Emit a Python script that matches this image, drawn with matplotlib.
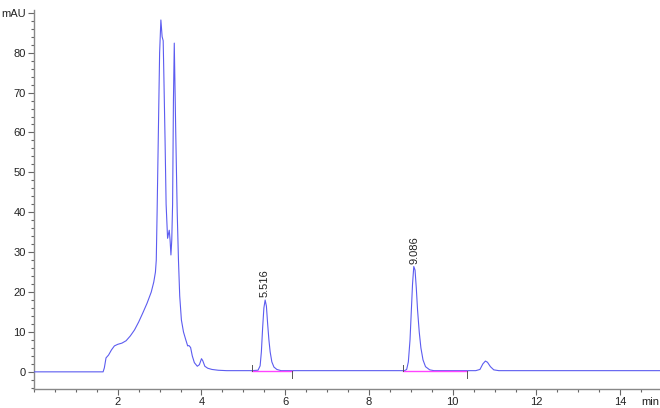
import matplotlib
matplotlib.use("Agg")
import matplotlib.pyplot as plt
from matplotlib.ticker import MultipleLocator
import matplotlib.transforms as mtransforms

plt.rcParams['font.family'] = ['Liberation Sans', 'DejaVu Sans']

time_min = [0.00, 1.65, 1.68, 1.72, 1.78, 1.85, 1.92, 2.00, 2.10, 2.20, 2.30, 2.40,
            2.50, 2.60, 2.70, 2.80, 2.86, 2.90, 2.92, 2.94, 2.97, 3.00, 3.03, 3.06,
            3.085, 3.10, 3.13, 3.155, 3.19, 3.21, 3.23, 3.25, 3.27, 3.29, 3.31, 3.33,
            3.35, 3.385, 3.42, 3.45, 3.48, 3.52, 3.57, 3.62, 3.67, 3.70, 3.74, 3.78,
            3.83, 3.90, 3.95, 4.00, 4.03, 4.08, 4.15, 4.25, 4.40, 4.60,
            5.20, 5.35, 5.40, 5.43, 5.46, 5.49, 5.52, 5.55, 5.58, 5.61, 5.64, 5.68,
            5.73, 5.80, 5.90,
            8.85, 8.90, 8.94, 8.98, 9.01, 9.04, 9.07, 9.10, 9.13, 9.16, 9.20, 9.24,
            9.29, 9.35, 9.45, 9.55,
            10.55, 10.65, 10.72, 10.78, 10.83, 10.90, 10.98, 11.10, 15.00]
signal_mau = [0.0, 0.0, 1.0, 3.5, 4.2, 5.5, 6.5, 6.9, 7.2, 7.8, 9.0, 10.5,
              12.5, 14.8, 17.2, 20.0, 22.5, 25.0, 28.0, 40.0, 60.0, 80.0, 88.2, 84.0,
              83.0, 75.0, 58.0, 42.0, 33.5, 34.5, 35.5, 33.0, 29.3, 33.0, 42.0, 68.0,
              82.4, 60.0, 40.0, 28.0, 19.0, 13.0, 10.0, 8.2, 6.5, 6.6, 6.1, 4.0,
              2.3, 1.4, 1.8, 3.3, 2.8, 1.4, 0.9, 0.6, 0.4, 0.3,
              0.3, 0.4, 1.5, 5.0, 11.0, 16.0, 18.0, 16.5, 12.0, 8.0, 5.0, 2.5,
              1.2, 0.6, 0.3,
              0.3, 0.6, 2.5, 8.0, 15.0, 22.0, 26.4, 25.5, 21.0, 15.5, 10.0, 6.0,
              3.0, 1.3, 0.5, 0.3,
              0.3, 0.6, 2.0, 2.7, 2.4, 1.3, 0.5, 0.3, 0.3]

# Labelled peaks
peak_rt = [5.516, 9.086]
peak_height = [18.0, 26.4]
peak_labels = ["5.516", "9.086"]

# Integration baselines (start, end)
integ_start = [5.20, 8.81]
integ_end = [6.16, 10.35]

fig = plt.figure(figsize=(6.6, 4.08), dpi=100)
ax = fig.add_axes([34 / 660, 19 / 408, 1 - 34 / 660, 379 / 408])

line_col = "#5c5cf0"
ax.plot(time_min, signal_mau, color=line_col, lw=0.8, zorder=3)

for s, e in zip(integ_start, integ_end):
    ax.plot([s, e], [0.3, 0.3], color="#ff44ff", lw=1.0, zorder=4)
    ax.plot([s, s], [0.3, 1.7], color="#555555", lw=0.7, zorder=5)
    ax.plot([e, e], [0.3, -1.5], color="#555555", lw=0.7, zorder=5)

for rt, h, lab in zip(peak_rt, peak_height, peak_labels):
    ax.annotate(lab, xy=(rt, h), xytext=(0, 2), textcoords="offset points",
                rotation=90, ha="center", va="bottom", fontsize=8, color="#222222")

ax.set_xlim(0, 14.95)
ax.set_ylim(-4.3, 90.7)

ax.xaxis.set_minor_locator(MultipleLocator(0.5))
xt = [2, 4, 6, 8, 10, 12, 14]
ax.set_xticks(xt)
ax.set_xticklabels([str(v) for v in xt])

yt = [0, 10, 20, 30, 40, 50, 60, 70, 80, 90]
ax.set_yticks(yt)
ax.set_yticklabels([str(v) for v in yt[:-1]] + ["mAU"])
ax.yaxis.set_minor_locator(MultipleLocator(2))

for sp in ["top", "right"]:
    ax.spines[sp].set_visible(False)
for sp in ["left", "bottom"]:
    ax.spines[sp].set_color("#888888")
    ax.spines[sp].set_linewidth(1.0)

ax.tick_params(which="major", direction="out", length=4, width=0.8, color="#666666",
               labelsize=8, labelcolor="#222222", pad=2)
ax.tick_params(which="minor", direction="out", length=2.5, width=0.8, color="#666666")

trans = mtransforms.blended_transform_factory(ax.transData, ax.transAxes)
ax.text(14.72, -0.022, "min", transform=trans, ha="center", va="top", fontsize=8,
        color="#222222")

fig.savefig("out.png", dpi=100)
